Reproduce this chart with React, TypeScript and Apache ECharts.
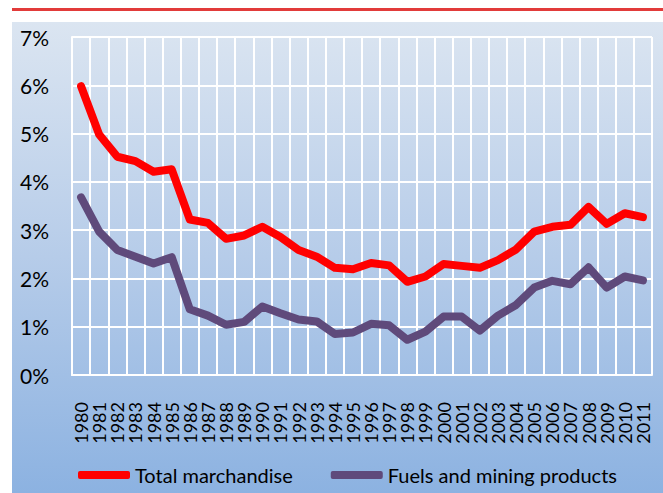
import React, { useEffect, useRef } from "react";
import * as echarts from "echarts";

const years = [
  "1980", "1981", "1982", "1983", "1984", "1985", "1986", "1987", "1988", "1989",
  "1990", "1991", "1992", "1993", "1994", "1995", "1996", "1997", "1998", "1999",
  "2000", "2001", "2002", "2003", "2004", "2005", "2006", "2007", "2008", "2009",
  "2010", "2011",
];

const totalMerchandise = [
  5.98, 4.98, 4.52, 4.43, 4.21, 4.26, 3.22, 3.15, 2.82, 2.89,
  3.07, 2.86, 2.59, 2.45, 2.22, 2.19, 2.32, 2.27, 1.93, 2.04,
  2.3, 2.26, 2.22, 2.38, 2.6, 2.97, 3.07, 3.11, 3.48, 3.13,
  3.35, 3.27,
];

const fuelsMining = [
  3.68, 2.97, 2.59, 2.45, 2.31, 2.44, 1.36, 1.23, 1.04, 1.1,
  1.42, 1.28, 1.15, 1.11, 0.85, 0.88, 1.06, 1.03, 0.73, 0.9,
  1.21, 1.21, 0.92, 1.23, 1.45, 1.81, 1.95, 1.88, 2.23, 1.81,
  2.04, 1.96,
];

const seriesNames = ["Total marchandise", "Fuels and mining products"];
const yTicks = [0, 1, 2, 3, 4, 5, 6, 7];

const FONT = "Lato, 'Noto Sans', sans-serif";

export default function App() {
  const ref = useRef<HTMLDivElement>(null);

  useEffect(() => {
    if (!ref.current) return;
    const chart = echarts.init(ref.current, undefined, { renderer: "svg" });
    chart.setOption({
      animation: false,
      graphic: [
        {
          type: "rect",
          z: -10,
          silent: true,
          shape: { x: 12, y: 22, width: 651, height: 471 },
          style: {
            fill: new echarts.graphic.LinearGradient(0, 0, 0, 1, [
              { offset: 0, color: "#dbe5f1" },
              { offset: 0.5, color: "#b6cce9" },
              { offset: 1, color: "#8cb2e1" },
            ]),
          },
        },
        {
          type: "rect",
          silent: true,
          shape: { x: 12, y: 8, width: 651, height: 3 },
          style: { fill: "#e23b3a" },
        },
      ],
      grid: { left: 72, right: 11, top: 37, bottom: 118 },
      legend: {
        left: 73,
        top: 460,
        itemWidth: 52,
        itemHeight: 8,
        itemGap: 38,
        icon: "roundRect",
        data: seriesNames,
        textStyle: { fontFamily: FONT, fontSize: 20, color: "#000" },
      },
      xAxis: {
        type: "category",
        data: years,
        boundaryGap: true,
        axisLine: { show: true, lineStyle: { color: "#ffffff", width: 2 } },
        axisTick: { show: false },
        splitLine: { show: true, lineStyle: { color: "#ffffff", width: 2 } },
        axisLabel: {
          interval: 0,
          rotate: 90,
          margin: 27,
          fontFamily: FONT,
          fontSize: 18,
          color: "#000",
        },
      },
      yAxis: {
        type: "value",
        min: yTicks[0],
        max: yTicks[yTicks.length - 1],
        interval: 1,
        axisLine: { show: true, lineStyle: { color: "#ffffff", width: 2 } },
        axisTick: { show: false },
        splitLine: { show: true, lineStyle: { color: "#ffffff", width: 2 } },
        axisLabel: {
          formatter: "{value}%",
          margin: 23,
          fontFamily: FONT,
          fontSize: 21,
          color: "#000",
        },
      },
      series: [
        {
          name: seriesNames[0],
          type: "line",
          data: totalMerchandise,
          symbol: "none",
          color: "#ff0000",
          lineStyle: { width: 8, color: "#ff0000", cap: "round", join: "round" },
        },
        {
          name: seriesNames[1],
          type: "line",
          data: fuelsMining,
          symbol: "none",
          color: "#5f4a7b",
          lineStyle: { width: 8, color: "#5f4a7b", cap: "round", join: "round" },
        },
      ],
    });
    return () => chart.dispose();
  }, []);

  return (
    <div
      ref={ref}
      style={{ position: "fixed", left: 0, top: 0, width: 663, height: 493, background: "#fff" }}
    />
  );
}
